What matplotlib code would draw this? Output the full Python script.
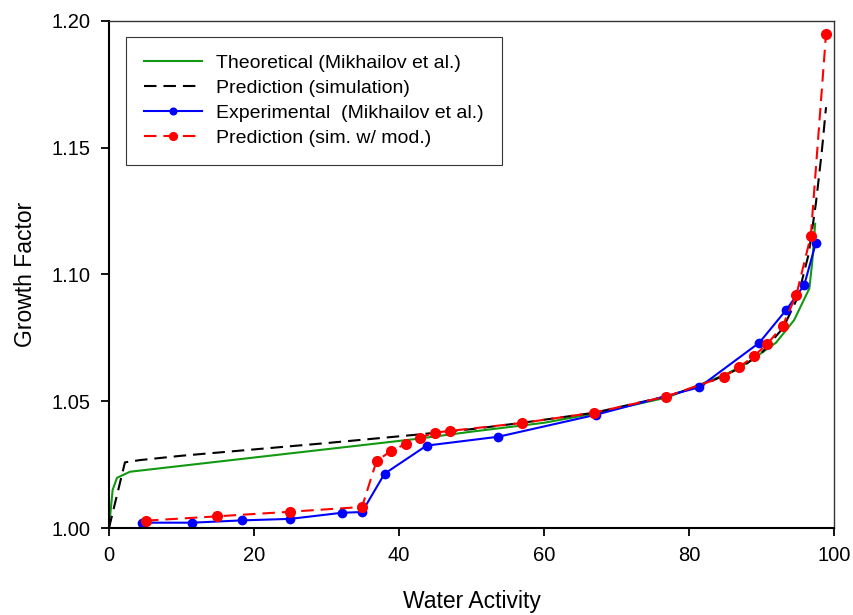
import matplotlib
matplotlib.use("Agg")
import matplotlib.pyplot as plt

plt.rcParams['font.family'] = ['Liberation Sans', 'DejaVu Sans']
plt.rcParams['lines.scale_dashes'] = False

# Theoretical (Mikhailov et al.)
theo_x = [0, 0.5, 1.1, 2.9, 42, 50, 60, 67, 77, 81, 85, 88, 92, 94.5, 96.6, 97.0, 97.4]
theo_y = [1.000, 1.015, 1.0198, 1.0222, 1.035, 1.038, 1.0415, 1.0452, 1.0515, 1.056,
          1.0605, 1.065, 1.0731, 1.082, 1.0945, 1.105, 1.120]

# Prediction (simulation)
sim_x = [0, 2.2, 4.3, 10, 20, 30, 42, 50, 57, 67, 77, 82, 87, 90, 93, 95, 96.5, 97.5, 98.3, 98.9]
sim_y = [1.000, 1.0259, 1.0268, 1.0285, 1.031, 1.0335, 1.0367, 1.039, 1.0415, 1.0455,
         1.052, 1.0565, 1.063, 1.069, 1.079, 1.091, 1.108, 1.128, 1.148, 1.166]

# Experimental (Mikhailov et al.)
exp_x = [4.6, 11.5, 18.3, 25.0, 32.1, 34.9, 38.0, 43.8, 53.7, 67.2, 81.4, 89.7, 93.4, 95.9, 97.5]
exp_y = [1.0021, 1.0021, 1.0030, 1.0036, 1.0060, 1.0063, 1.0214, 1.0325, 1.0360, 1.0447,
         1.0555, 1.0731, 1.0860, 1.0959, 1.1125]

# Prediction (sim. w/ mod.)
mod_x = [5.1, 14.9, 24.9, 34.9, 36.9, 38.9, 40.9, 42.9, 44.9, 47.0, 56.9, 66.9, 76.8,
         84.8, 86.9, 89.0, 90.8, 92.9, 94.8, 96.8, 98.9]
mod_y = [1.0029, 1.0046, 1.0064, 1.0083, 1.0264, 1.0304, 1.0331, 1.0356, 1.0376, 1.0383,
         1.0414, 1.0455, 1.0518, 1.0597, 1.0634, 1.0679, 1.0726, 1.0797, 1.0919, 1.1152, 1.1949]

x_ticks = [0, 20, 40, 60, 80, 100]
y_ticks = [1.00, 1.05, 1.10, 1.15, 1.20]

W, H = 854, 615
fig = plt.figure(figsize=(W / 100, H / 100), dpi=100)
ax = fig.add_axes([109 / W, (H - 528) / H, (834 - 109) / W, (528 - 21) / H])

ax.plot(theo_x, theo_y, color='#119911', lw=1.5, label='Theoretical (Mikhailov et al.)')
ax.plot(sim_x, sim_y, color='black', lw=1.5, dashes=(9, 5), label='Prediction (simulation)')
ax.plot(exp_x, exp_y, color='#0000ff', lw=1.5, marker='o', ms=6, label='Experimental  (Mikhailov et al.)')
ax.plot(mod_x, mod_y, color='#ff0000', lw=1.5, dashes=(9, 5), marker='o', ms=7,
        label='Prediction (sim. w/ mod.)')

ax.set_xlim(0, 100)
ax.set_ylim(1.00, 1.20)
ax.set_xticks(x_ticks)
ax.set_yticks(y_ticks)
ax.set_yticklabels([f"{v:.2f}" for v in y_ticks])
ax.tick_params(direction='out', length=6, width=1.3, labelsize=14.5, pad=7,
               top=False, right=False)

for s in ['left', 'bottom']:
    ax.spines[s].set_linewidth(1.5)
for s in ['top', 'right']:
    ax.spines[s].set_linewidth(1.0)
    ax.spines[s].set_color('#333333')

ax.set_xlabel('Water Activity', fontsize=16.5, labelpad=18)
ax.set_ylabel('Growth Factor', fontsize=16.5, labelpad=11)

leg = ax.legend(loc='upper left', bbox_to_anchor=((126 - 109) / 725, (528 - 37) / 507),
                borderaxespad=0, fontsize=14, frameon=True, fancybox=False,
                edgecolor='black', handlelength=3.0, handletextpad=0.75,
                labelspacing=0.38, borderpad=0.9, numpoints=1, markerscale=0.8)
leg.get_frame().set_linewidth(0.8)

fig.savefig('out.png', dpi=100)
